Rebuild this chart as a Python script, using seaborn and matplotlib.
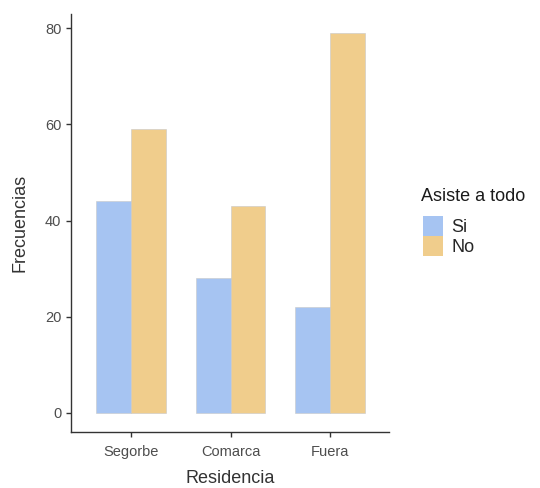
import pandas as pd
import matplotlib.pyplot as plt
import matplotlib.patches as mpatches
import seaborn as sns

# Datos
residencia = ["Segorbe", "Comarca", "Fuera"]
asiste = ["Si", "No"]
frec_si = [44, 28, 22]
frec_no = [59, 43, 79]
colores = {"Si": "#a6c4f2", "No": "#f0cd8c"}

df = pd.DataFrame({
    "Residencia": residencia * 2,
    "Asiste": ["Si"] * 3 + ["No"] * 3,
    "Frecuencias": frec_si + frec_no,
})

sns.set_style("ticks")
plt.rcParams["font.family"] = ["Liberation Sans", "DejaVu Sans"]

fig = plt.figure(figsize=(5.4, 4.88), dpi=100)
ax = fig.add_axes([0.1315, 0.1148, 0.589, 0.8565])

sns.barplot(data=df, x="Residencia", y="Frecuencias", hue="Asiste",
            order=residencia, hue_order=asiste, palette=colores,
            width=0.7, gap=0, edgecolor="#c8c8c8", linewidth=0.4,
            saturation=1, ax=ax, legend=False)

ax.set_xlim(-0.6, 2.59)
ax.set_ylim(-3.95, 82.95)
ax.set_yticks([0, 20, 40, 60, 80])
ax.spines["top"].set_visible(False)
ax.spines["right"].set_visible(False)
for s in ["left", "bottom"]:
    ax.spines[s].set_color("#333333")
    ax.spines[s].set_linewidth(1.0)
ax.tick_params(colors="#333333", labelcolor="#4d4d4d", labelsize=10.5,
               length=3.5, width=1.0)
ax.tick_params(axis="x", pad=6)
ax.set_xlabel("Residencia", fontsize=13, color="#333333", labelpad=8)
ax.set_ylabel("Frecuencias", fontsize=13, color="#333333", labelpad=12)

# Leyenda: título aparte, claves debajo
fig.text(0.78, 0.598, "Asiste a todo", fontsize=13, color="#1a1a1a",
         ha="left", va="center")
handles = [mpatches.Patch(facecolor=colores[a], edgecolor="none", label=a)
           for a in asiste]
fig.legend(handles=handles, loc="upper left", bbox_to_anchor=(0.754, 0.59),
           frameon=False, fontsize=13, handlelength=1.1, handleheight=1.3,
           handletextpad=0.45, labelspacing=0.0)

fig.savefig("out.png", dpi=100)
